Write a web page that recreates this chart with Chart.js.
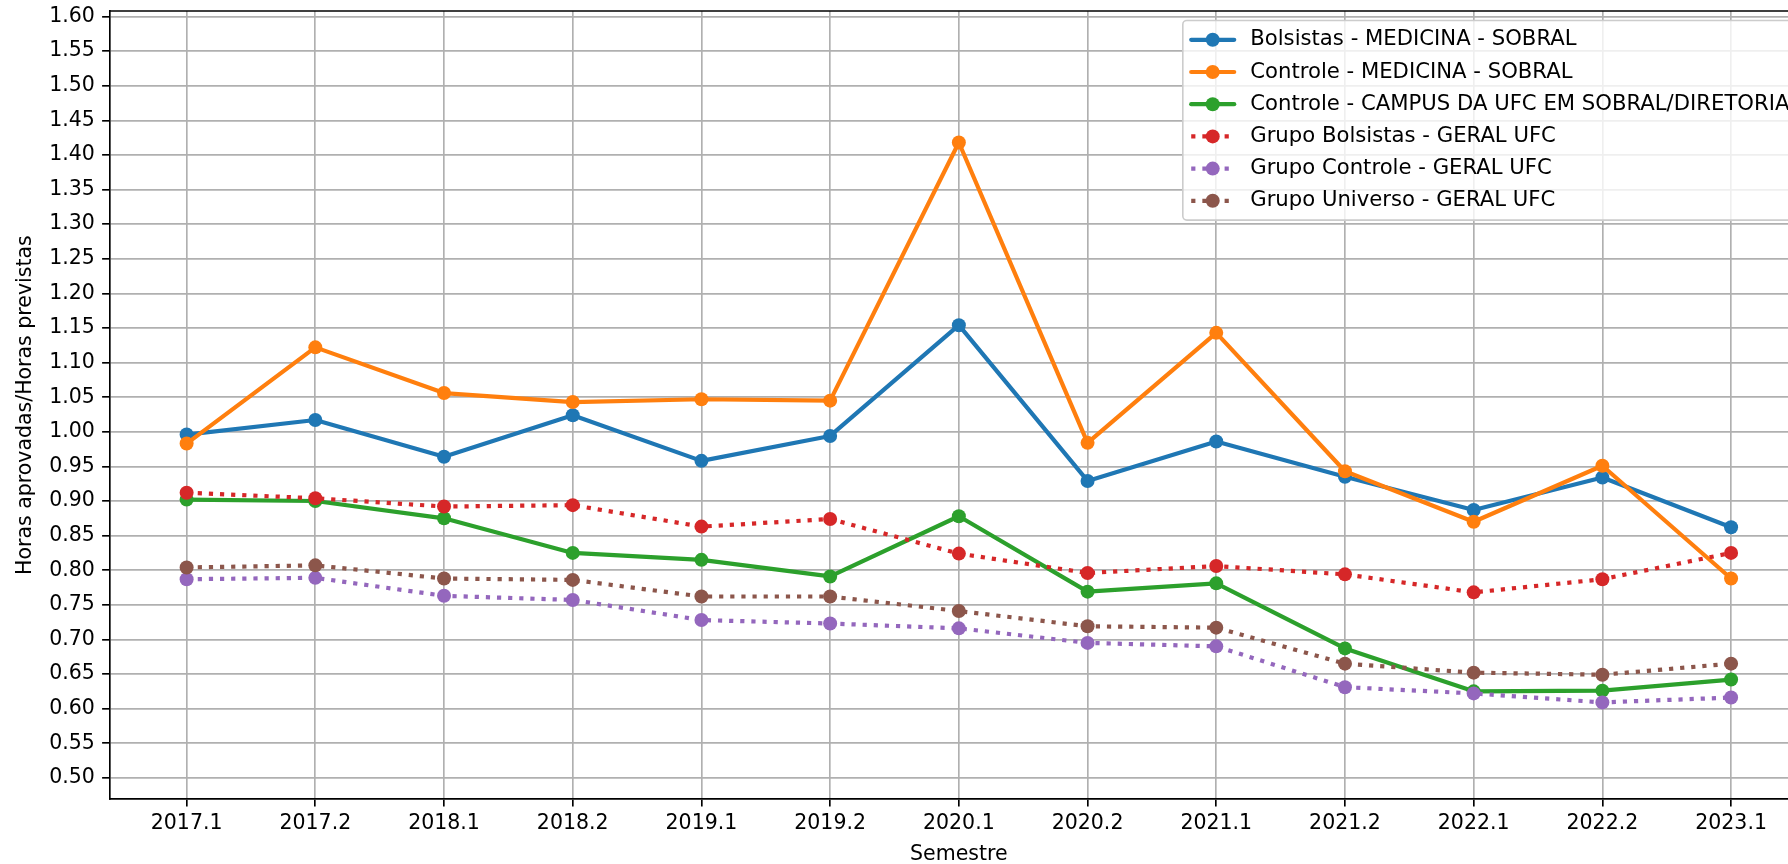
<!DOCTYPE html>
<html>
<head>
<meta charset="utf-8">
<script src="https://cdn.jsdelivr.net/npm/chart.js@4.4.0/dist/chart.umd.min.js"></script>
<style>
  html, body { margin: 0; padding: 0; background: #fff; overflow: hidden; }
  #wrap { width: 1830px; height: 864px; }
</style>
</head>
<body>
<div id="wrap"><canvas id="chart" width="1830" height="864"></canvas></div>
<script>
const semesters = ["2017.1", "2017.2", "2018.1", "2018.2", "2019.1", "2019.2", "2020.1",
  "2020.2", "2021.1", "2021.2", "2022.1", "2022.2", "2023.1"];

const yTicks = [0.50, 0.55, 0.60, 0.65, 0.70, 0.75, 0.80, 0.85, 0.90, 0.95, 1.00, 1.05,
  1.10, 1.15, 1.20, 1.25, 1.30, 1.35, 1.40, 1.45, 1.50, 1.55, 1.60];

const bolsistasMedicina = [0.996, 1.017, 0.964, 1.024, 0.958, 0.994, 1.154, 0.929, 0.986, 0.935, 0.887, 0.934, 0.862];
const controleMedicina  = [0.983, 1.122, 1.056, 1.043, 1.047, 1.045, 1.418, 0.984, 1.143, 0.943, 0.870, 0.951, 0.788];
const controleCampus    = [0.902, 0.900, 0.875, 0.825, 0.815, 0.791, 0.878, 0.769, 0.781, 0.687, 0.625, 0.626, 0.642];
const grupoBolsistas    = [0.912, 0.904, 0.892, 0.894, 0.863, 0.874, 0.824, 0.796, 0.806, 0.794, 0.768, 0.787, 0.825];
const grupoControle     = [0.787, 0.789, 0.763, 0.757, 0.728, 0.723, 0.716, 0.695, 0.690, 0.631, 0.622, 0.609, 0.616];
const grupoUniverso     = [0.804, 0.807, 0.788, 0.786, 0.762, 0.762, 0.741, 0.719, 0.717, 0.665, 0.652, 0.649, 0.665];

const FONT = "'DejaVu Sans', sans-serif";
const FS = 20.5;
const LEGEND_FS = 21.2;
const LW = 4.2;
const DOTS = [LW, 1.65 * LW];
const MARKER = 7;

function series(label, values, color, dotted, i) {
  return {
    label,
    data: values.map((v, k) => ({ x: k, y: v })),
    borderColor: color,
    backgroundColor: color,
    pointBackgroundColor: color,
    borderWidth: LW,
    borderDash: dotted ? DOTS : [],
    borderCapStyle: dotted ? "butt" : "round",
    borderJoinStyle: "round",
    pointRadius: MARKER,
    pointHoverRadius: MARKER,
    pointBorderWidth: 0,
    tension: 0,
    order: -i
  };
}

// top spine + boxed legend in the upper right corner of the axes
const axesDecor = {
  id: "axesDecor",
  afterDatasetsDraw(chart) {
    const { ctx, chartArea: a } = chart;
    ctx.save();
    ctx.strokeStyle = "#000";
    ctx.lineWidth = 1.66;
    ctx.beginPath();
    ctx.moveTo(a.left, a.top);
    ctx.lineTo(a.right, a.top);
    ctx.stroke();
    ctx.restore();
  },
  afterDraw(chart) {
    const { ctx, chartArea: a } = chart;
    const sets = chart.data.datasets;
    ctx.save();
    ctx.font = `${LEGEND_FS}px ${FONT}`;
    const textW = Math.max(...sets.map(d => ctx.measureText(d.label).width));
    const pad = 8.4, handleLen = 43, handlePad = 16;
    const rowH = 21.8, gap = 10.4;
    const w = pad * 2 + handleLen + handlePad + textW;
    const h = pad * 2 + sets.length * rowH + (sets.length - 1) * gap;
    const right = a.right - 10.4;
    const left = right - w;
    const top = a.top + 9.5;

    ctx.beginPath();
    ctx.roundRect(left, top, w, h, 4);
    ctx.fillStyle = "rgba(255,255,255,0.8)";
    ctx.fill();
    ctx.strokeStyle = "#cccccc";
    ctx.lineWidth = 1.6;
    ctx.stroke();

    sets.forEach((d, i) => {
      const cy = top + pad + i * (rowH + gap) + rowH / 2;
      const x0 = left + pad, x1 = x0 + handleLen;
      ctx.strokeStyle = d.borderColor;
      ctx.lineWidth = LW;
      ctx.setLineDash(d.borderDash);
      ctx.lineCap = d.borderCapStyle;
      ctx.beginPath();
      ctx.moveTo(x0, cy);
      ctx.lineTo(x1, cy);
      ctx.stroke();
      ctx.setLineDash([]);
      ctx.fillStyle = d.borderColor;
      ctx.beginPath();
      ctx.arc((x0 + x1) / 2, cy, MARKER, 0, Math.PI * 2);
      ctx.fill();
      ctx.fillStyle = "#000";
      ctx.textBaseline = "middle";
      ctx.textAlign = "left";
      ctx.fillText(d.label, x1 + handlePad, cy);
    });
    ctx.restore();
  }
};

const tickFont = { family: FONT, size: FS };

new Chart(document.getElementById("chart"), {
  type: "line",
  data: {
    datasets: [
      series("Bolsistas - MEDICINA - SOBRAL", bolsistasMedicina, "#1f77b4", false, 0),
      series("Controle - MEDICINA - SOBRAL", controleMedicina, "#ff7f0e", false, 1),
      series("Controle - CAMPUS DA UFC EM SOBRAL/DIRETORIA", controleCampus, "#2ca02c", false, 2),
      series("Grupo Bolsistas - GERAL UFC", grupoBolsistas, "#d62728", true, 3),
      series("Grupo Controle - GERAL UFC", grupoControle, "#9467bd", true, 4),
      series("Grupo Universo - GERAL UFC", grupoUniverso, "#8c564b", true, 5)
    ]
  },
  options: {
    responsive: false,
    animation: false,
    devicePixelRatio: 1,
    layout: { padding: { top: 11, right: 21.7, left: 0, bottom: 0 } },
    plugins: { legend: { display: false }, tooltip: { enabled: false } },
    scales: {
      x: {
        type: "linear",
        min: -0.6,
        max: 12.6,
        afterBuildTicks: s => { s.ticks = semesters.map((_, i) => ({ value: i })); },
        afterFit: s => { s.height = 64.7; s.paddingLeft = 0; s.paddingRight = 0; },
        ticks: {
          autoSkip: false,
          maxRotation: 0,
          padding: 5,
          color: "#000",
          font: tickFont,
          callback: v => semesters[v]
        },
        grid: { color: "#b0b0b0", lineWidth: 1.66, tickColor: "#000", tickWidth: 1.66, tickLength: 7.3 },
        border: { color: "#000", width: 1.66 },
        title: {
          display: true,
          text: "Semestre",
          color: "#000",
          font: { family: FONT, size: FS, lineHeight: 0.9 },
          padding: 0
        }
      },
      y: {
        min: 0.469,
        max: 1.608,
        afterBuildTicks: s => { s.ticks = yTicks.map(v => ({ value: v })); },
        afterFit: s => { s.width = 109.4; s.paddingTop = 0; s.paddingBottom = 0; },
        ticks: {
          padding: 7.3,
          color: "#000",
          font: tickFont,
          callback: v => v.toFixed(2)
        },
        grid: { color: "#b0b0b0", lineWidth: 1.66, tickColor: "#000", tickWidth: 1.66, tickLength: 7.3 },
        border: { color: "#000", width: 1.66 },
        title: {
          display: true,
          text: "Horas aprovadas/Horas previstas",
          color: "#000",
          font: { family: FONT, size: FS, lineHeight: 1 },
          padding: { top: 15, bottom: 0 }
        }
      }
    }
  },
  plugins: [axesDecor]
});
</script>
</body>
</html>
